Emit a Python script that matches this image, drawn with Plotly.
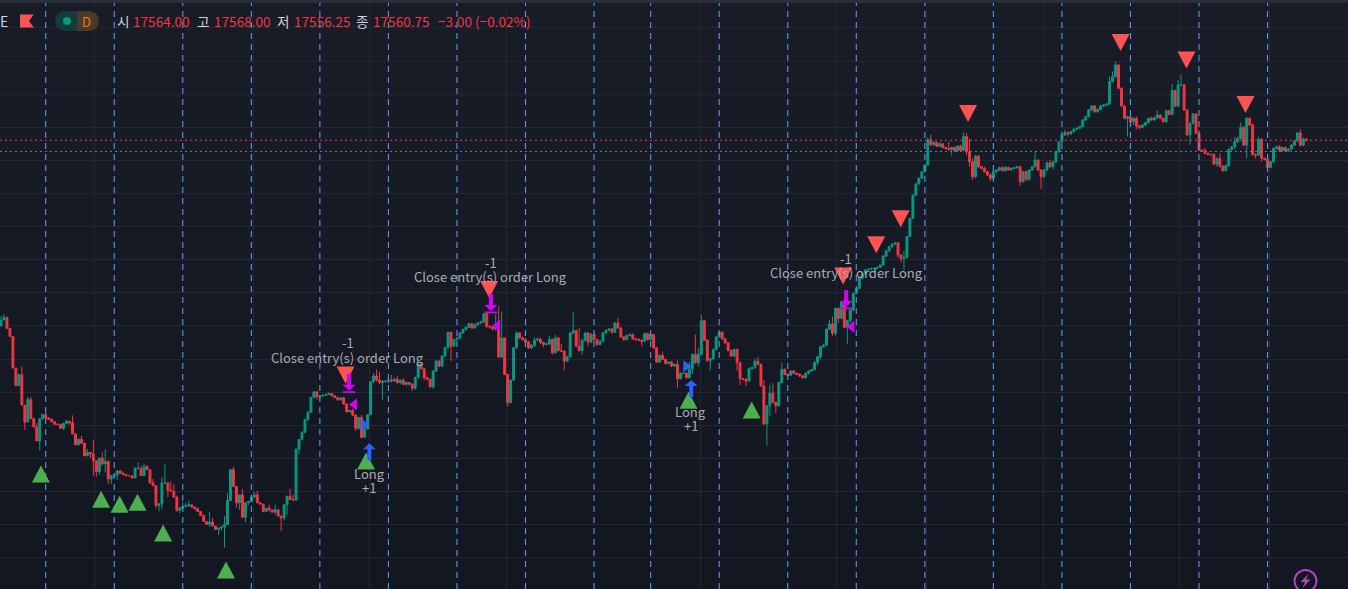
import plotly.graph_objects as go

W, H = 1348, 589
FONT = "Noto Sans CJK KR"

# ---------- data (index futures, price points) ----------
first_open = 17000
closes = [
 17018,17026,16993,16968,16873,16820,16853,16761,16710,16778,
 16720,16695,16653,16720,16733,16722,16718,16711,16703,16703,
 16691,16706,16712,16708,16674,16641,16658,16646,16608,16618,
 16613,16593,16560,16601,16583,16591,16538,16548,16550,16562,
 16555,16551,16548,16548,16541,16570,16570,16548,16576,16566,
 16526,16518,16458,16463,16526,16526,16503,16501,16483,16443,
 16451,16456,16458,16460,16453,16448,16440,16428,16410,16401,
 16408,16396,16386,16390,16393,16400,16473,16566,16515,16466,
 16490,16422,16466,16470,16483,16490,16466,16462,16440,16450,
 16444,16438,16445,16426,16420,16460,16486,16476,16474,16628,
 16657,16679,16717,16739,16784,16801,16786,16789,16791,16793,
 16796,16789,16784,16777,16783,16764,16741,16745,16731,16691,
 16724,16664,16689,16732,16832,16849,16837,16829,16832,16832,
 16837,16834,16839,16829,16836,16824,16829,16824,16812,16844,
 16884,16871,16844,16839,16816,16864,16894,16879,16909,16934,
 16981,16939,16959,16964,16979,16989,16996,17007,16994,17004,
 17009,17012,17037,16999,16997,16991,17001,16906,16964,16854,
 16769,16837,16934,16979,16964,16959,16952,16934,16942,16957,
 16960,16950,16944,16946,16959,16919,16964,16926,16924,16894,
 16907,16979,16986,16939,16926,16957,16979,16951,16974,16959,
 16944,16954,16979,16987,16991,16981,17009,16994,16967,16959,
 16971,16974,16961,16959,16957,16954,16977,16959,16974,16934,
 16891,16911,16899,16887,16891,16879,16884,16841,16857,16857,
 16844,16871,16914,16889,16914,17016,16957,16896,16901,16929,16967,
 16981,16961,16949,16926,16909,16929,16889,16841,16839,16834,
 16871,16874,16894,16884,16819,16704,16759,16797,16769,16759,
 16829,16869,16854,16851,16864,16857,16854,16849,16844,
 16857,16864,16868,16890,16907,16937,16942,16990,17006,16978,
 17053,17023,17073,16996,17016,17048,17098,17113,17144,17157,
 17169,17171,17174,17174,17177,17184,17211,17227,17239,17247,
 17251,17214,17204,17207,17270,17325,17395,17429,17446,17466,
 17486,17562,17547,17554,17543,17550,17539,17536,17533,17539,
 17529,17543,17531,17572,17526,17496,17451,17513,17481,17476,
 17466,17456,17446,17466,17471,17478,17469,17479,17471,17476,
 17478,17481,17436,17466,17443,17471,17481,17501,17471,17451,
 17471,17493,17481,17496,17526,17556,17577,17584,17580,17587,
 17594,17597,17602,17622,17632,17652,17664,17647,17654,17664,
 17667,17670,17738,17753,17788,17718,17664,17627,17632,17617,
 17627,17604,17600,17607,17614,17627,17622,17629,17637,17627,
 17617,17650,17639,17711,17664,17728,17728,17652,17577,17612,
 17640,17582,17531,17529,17521,17518,17518,17489,17506,17483,
 17469,17484,17533,17541,17556,17566,17600,17546,17627,17607,
 17518,17516,17564,17506,17503,17479,17496,17536,17541,17529,
 17539,17529,17534,17546,17559,17583,17546,17564,17560.75,
]
upper_wicks = [
 12,10,2,1,0,0,3,25,0,8, 8,3,12,0,0,5,2,2,2,2,
 1,2,5,2,22,3,0,10,0,10, 2,42,0,3,17,37,2,0,3,3,
 2,5,2,1,1,3,18,8,8,3, 0,12,0,0,18,57,2,28,20,5,
 0,12,8,12,0,2,3,0,2,0, 30,12,0,2,2,25,22,2,8,0,
 0,18,0,0,0,8,12,0,0,0, 10,2,15,0,0,0,0,22,15,0,
 0,3,3,5,3,3,3,2,2,2, 3,2,2,2,2,3,2,2,5,2,
 0,8,2,0,0,8,20,25,5,5, 10,15,5,10,3,5,3,2,3,3,
 5,2,3,3,3,3,3,3,3,3, 2,2,2,2,3,3,3,3,2,3,
 3,3,2,2,2,2,35,58,80,0, 0,0,0,5,2,3,5,3,2,8,
 5,5,3,3,12,3,10,3,20,2, 3,3,56,3,55,3,3,3,5,3,
 3,3,3,3,3,3,3,15,3,3, 3,3,3,3,3,3,3,3,3,3,
 3,3,12,3,3,3,3,12,3,3,3, 20,3,60,20,18,3,3,3,3,3,
 3,3,3,3,3,3,3,3,3,3, 3,3,8,12,3,18,3,25,30,3,
 3,20,3,3,3,3,3,3,3, 3,3,3,3,3,3,3,3,12,22,
 3,3,3,3,3,3,3,3,3,3, 2,2,2,2,2,2,3,3,3,3,
 2,3,3,20,2,2,2,2,2,2, 3,8,15,5,3,5,2,3,20,3,
 3,3,5,12,10,40,10,2,3,3, 5,3,5,2,2,3,5,3,3,3,
 2,3,3,2,3,2,3,25,3,3, 3,3,10,2,3,3,3,8,3,3,
 3,3,3,3,3,3,3,3,3,3, 3,3,15,15,10,3,3,3,3,3,
 3,5,3,3,3,3,5,3,15,3, 3,3,3,20,3,15,30,3,3,3,
 3,3,10,3,8,3,2,3,3,15, 3,3,3,3,15,5,15,3,3,3,
 5,3,8,3,3,3,3,3,3,5, 3,3,3,3,3,3,10,5,4,
]
lower_wicks = [
 0,0,3,0,0,2,0,0,24,0, 0,0,0,30,3,2,2,2,2,2,
 2,6,2,6,0,0,2,3,2,0, 12,45,15,10,5,25,15,15,5,15,
 2,2,2,2,0,0,3,0,0,0, 2,2,8,18,17,0,20,2,0,4,
 8,5,5,5,2,2,0,2,0,0, 8,0,2,18,8,62,0,0,0,15,
 22,0,15,8,2,0,0,0,0,2, 5,2,8,0,40,8,30,0,0,0,
 15,3,3,3,0,0,8,8,2,2, 2,2,3,2,3,2,3,3,3,8,
 5,3,3,3,0,5,5,5,52,3, 5,5,3,3,5,3,5,3,8,5,
 3,3,8,3,3,5,3,3,3,3, 2,45,3,3,3,3,3,3,3,3,
 3,3,3,5,5,5,5,0,0,3, 12,3,3,3,3,3,8,3,3,5,
 3,5,8,3,3,5,3,3,3,28, 3,3,3,3,3,12,3,12,3,3,
 3,3,3,3,3,5,3,3,3,5, 3,3,3,3,3,15,3,3,3,3,
 3,3,3,3,3,3,3,27,3,3,3, 3,15,3,12,3,3,5,30,3,3,
 3,3,3,3,3,3,25,20,3,15, 3,3,3,3,3,3,65,30,3,22,
 3,3,3,3,3,3,3,3,3, 3,3,3,3,8,8,3,3,3,8,
 8,15,3,3,50,5,3,3,3,3, 2,2,2,2,2,2,2,3,3,3,
 2,8,10,35,3,2,2,2,2,2, 2,2,3,3,3,3,3,3,3,18,
 3,3,5,3,10,15,10,5,5,3, 3,3,8,3,3,3,2,3,2,3,
 2,3,12,3,5,5,3,3,3,38, 3,3,3,8,3,3,3,3,8,3,
 3,3,3,3,3,3,3,3,3,3, 3,3,3,3,3,3,3,3,55,10,
 10,10,5,3,3,3,3,3,3,3, 3,3,3,3,3,3,3,3,3,30,
 3,3,3,3,3,3,5,3,8,5, 3,3,3,3,8,3,3,3,40,3,
 5,10,3,10,3,15,3,3,3,3, 3,3,3,3,3,3,3,3,4.5,
]
header_values = ["17564.00", "17568.00", "17556.25", "17560.75"]
header_labels = ["시", "고", "저", "종"]
header_change = "−3.00 (−0.02%)"
last_price = 17560.75
reference_price = 17527
session_bars = [15,38,61,84,107,130,153,176,199,218,241,264,287,310,333,356,379,402,425]
grid_bars = [31.5,84.6,123.5,169.5,234.6,280.5,310.4,349.7,395.3,425.5]
buy_signal_bars = [13.4,33.6,39.8,45.8,54.4,75.5,122.5,230.7,251.9]
buy_signal_prices = [16553,16477,16462,16468,16375,16263,16592,16776,16746]
sell_signal_bars = [115.6,163.8,282.6,293.7,301.9,324.5,375.7,397.8,417.6]
sell_signal_prices = [16852,17110,17151,17245,17324,17642,17856,17803,17669]
exit_bars = [116.8,164.4,283.6]
exit_prices = [16801,17042,17054]
exit_flag_bars = [118.1,166.1,285.0]
exit_flag_prices = [16763,17001,16998]
entry_bars = [123.6,231.6]
entry_prices = [16646,16837]
entry_flag_bars = [122.3,230.3]
entry_flag_prices = [16702,16878]
exit_text_bars = [116.4,164.4,283.6]
exit_text_prices = [16906,17148,17163]
exit_qty_prices = [16949,17193,17205]
entry_text_bars = [123.5,231.5]
entry_text_prices = [16556,16743]
entry_qty_prices = [16511,16698]

opens = [first_open] + closes[:-1]
highs = [max(o, c) + u for o, c, u in zip(opens, closes, upper_wicks)]
lows = [min(o, c) - d for o, c, d in zip(opens, closes, lower_wicks)]
bars = list(range(len(closes)))

RED, GREEN = "#f23645", "#089981"
fig = go.Figure(go.Candlestick(
    x=bars, open=opens, high=highs, low=lows, close=closes,
    increasing=dict(line=dict(color=GREEN, width=1), fillcolor=GREEN),
    decreasing=dict(line=dict(color=RED, width=1), fillcolor=RED),
    hoverinfo="skip", showlegend=False,
))

shapes = []
# vertical background gradient
BANDS = 12
top, bot = (24, 28, 39), (19, 23, 34)
for b in range(BANDS):
    t = b / (BANDS - 1)
    col = "rgb(%d,%d,%d)" % tuple(round(top[i] + (bot[i] - top[i]) * t) for i in range(3))
    shapes.append(dict(type="rect", xref="paper", yref="paper", x0=0, x1=1,
                       y0=1 - (b + 1) / BANDS, y1=1 - b / BANDS,
                       fillcolor=col, line_width=0, layer="below"))

def px(x): return x / W
def py(y): return 1 - y / H

def glyph(x, y, path, fill=None, stroke=None, sw=0, xref="x", yref="y"):
    shapes.append(dict(type="path", xref=xref, yref=yref, xsizemode="pixel", ysizemode="pixel",
                       xanchor=x, yanchor=y, path=path, fillcolor=fill or "rgba(0,0,0,0)",
                       line=dict(color=stroke or "rgba(0,0,0,0)", width=sw)))

for s in session_bars:
    shapes.append(dict(type="line", xref="x", yref="paper", x0=s, x1=s, y0=0, y1=py(3),
                       line=dict(color="#5a96ec", width=1.1, dash="6px,5px")))
for p, c in ((last_price, RED), (reference_price, "#787b86")):
    shapes.append(dict(type="line", xref="paper", yref="y", x0=0, x1=1, y0=p, y1=p,
                       line=dict(color=c, width=1, dash="2px,3px")))

UP = "M -9 -8.5 L 9 -8.5 L 0 8.5 Z"
DOWN = "M -9 8.5 L 9 8.5 L 0 -8.5 Z"
for x, y in zip(buy_signal_bars, buy_signal_prices):
    glyph(x, y, UP, fill="#4caf50")
for x, y in zip(sell_signal_bars, sell_signal_prices):
    glyph(x, y, DOWN, fill="#ff5252")

MAG, BLUE = "#d500f9", "#2962ff"
EXIT = "M -2 18 L 2 18 L 2 7 L 6.5 7 L 0 1 L -6.5 7 L -2 7 Z"
for x, y in zip(exit_bars, exit_prices):
    glyph(x, y, EXIT, fill=MAG)
    glyph(x, y, "M -6.5 0.6 L 6.5 0.6 L 6.5 -1.2 L -6.5 -1.2 Z", fill=MAG)
for x, y in zip(exit_flag_bars, exit_flag_prices):
    glyph(x, y, "M 4 6 L 4 -6 L -4 0 Z", fill=MAG)
ENTRY = "M -2 -17 L 2 -17 L 2 -6 L 6.5 -6 L 0 0 L -6.5 -6 L -2 -6 Z"
for x, y in zip(entry_bars, entry_prices):
    glyph(x, y, ENTRY, fill=BLUE)
for x, y in zip(entry_flag_bars, entry_flag_prices):
    glyph(x, y, "M -4 6 L -4 -6 L 4 0 Z", fill=BLUE)

# chart chrome
shapes.append(dict(type="rect", xref="paper", yref="paper", x0=0, x1=1, y0=py(3), y1=1,
                   fillcolor="#2a2e39", line_width=0))
glyph(px(20), py(21), "M 0 6.5 L 13.8 6.5 L 9 0 L 13.8 -6.5 L 0 -6.5 Z", fill="#ff5252",
      xref="paper", yref="paper")
def circ(x, y, r, fill, stroke=None, sw=0):
    shapes.append(dict(type="circle", xref="paper", yref="paper", x0=px(x - r), x1=px(x + r),
                       y0=py(y + r), y1=py(y - r), fillcolor=fill,
                       line=dict(color=stroke or "rgba(0,0,0,0)", width=sw)))
def rect(x0, x1, y0, y1, fill):
    shapes.append(dict(type="rect", xref="paper", yref="paper", x0=px(x0), x1=px(x1),
                       y0=py(y1), y1=py(y0), fillcolor=fill, line_width=0))
circ(65, 21, 10, "#133a3c")
rect(65, 77, 11, 31, "#133a3c")
circ(89, 21, 10, "#4a3a2a")
rect(77, 89, 11, 31, "#4a3a2a")
circ(67, 21, 4, GREEN)
circ(1305.5, 581, 11, "rgba(0,0,0,0)", "#ab47bc", 2)
glyph(px(1305.5), py(581), "M 3 7 L -5 -1 L -0.5 -1 L -3 -7 L 5 1.5 L 0.5 1.5 Z", fill="#ab47bc",
      xref="paper", yref="paper")

annotations = []
def label(x, y, text, color="#a9acb5", size=13, anchor="center", ref="data"):
    a = dict(x=x, y=y, text=text, showarrow=False, xanchor=anchor, yanchor="middle",
             font=dict(family=FONT, size=size, color=color))
    if ref == "paper":
        a.update(xref="paper", yref="paper")
    annotations.append(a)

for x, y, q in zip(exit_text_bars, exit_text_prices, exit_qty_prices):
    label(x, y, "Close entry(s) order Long")
    label(x, q, "-1")
for x, y, q in zip(entry_text_bars, entry_text_prices, entry_qty_prices):
    label(x, y, "Long")
    label(x, q, "+1")

label(px(0), py(21), "E", "#d1d4dc", 14, "left", "paper")
annotations[-1]["xshift"] = -2
label(px(86), py(21), "D", "#f57c00", 13, "center", "paper")
for lx, name, vx, val in zip((115, 195, 275, 354), header_labels, (130.5, 211.5, 291.5, 370.5), header_values):
    label(px(lx), py(21), name, "#d1d4dc", 13.6, "left", "paper")
    label(px(vx), py(21), val, RED, 13.6, "left", "paper")
label(px(435.5), py(21), header_change, RED, 13.6, "left", "paper")

fig.update_layout(
    width=W, height=H, margin=dict(l=0, r=0, t=0, b=0),
    paper_bgcolor="#161a25", plot_bgcolor="rgba(0,0,0,0)",
    boxgap=0.25, boxgroupgap=0.15, showlegend=False, shapes=shapes, annotations=annotations,
    xaxis=dict(range=[-0.336, 452], rangeslider=dict(visible=False), tickmode="array",
               tickvals=grid_bars, ticks="", showticklabels=False, showgrid=True,
               gridcolor="#232733", gridwidth=1, zeroline=False, showline=False),
    yaxis=dict(range=[16205.7, 17984.4], tick0=0, dtick=100, ticks="", showticklabels=False,
               showgrid=True, gridcolor="#232733", gridwidth=1, zeroline=False, showline=False),
)
assert len(closes) == len(upper_wicks) == len(lower_wicks), (len(closes), len(upper_wicks), len(lower_wicks))
fig.write_html("out.html", config=dict(displayModeBar=False, responsive=False),
               post_script="document.body.style.margin='0';document.body.style.overflow='hidden';")
